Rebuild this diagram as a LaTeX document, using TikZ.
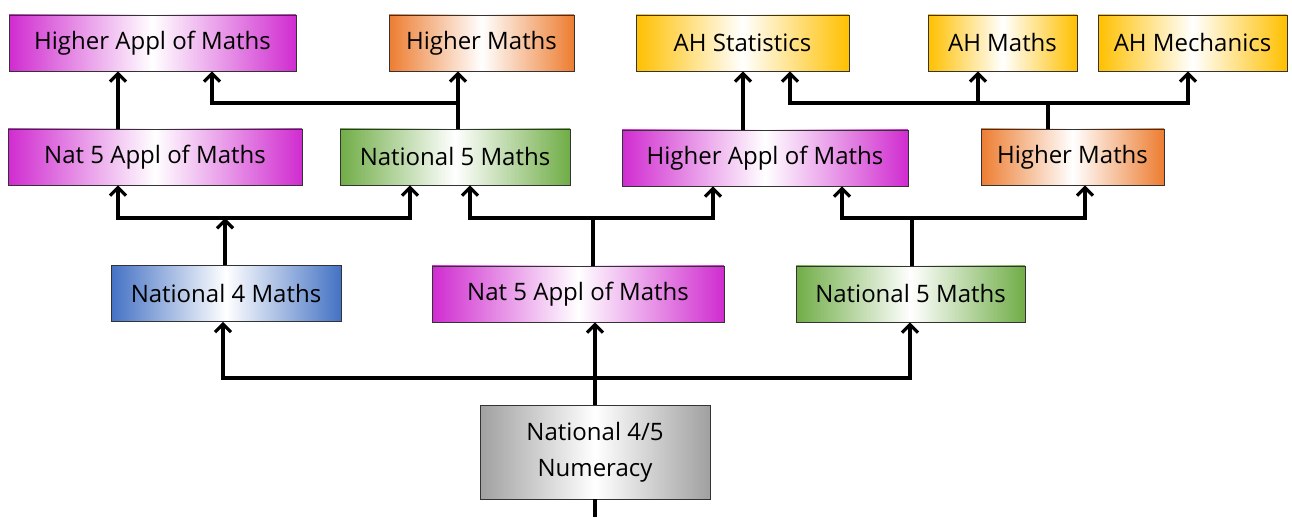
\documentclass[tikz,border=0pt]{standalone}
\usepackage{fontspec}
\setmainfont{Open Sans}
\usetikzlibrary{arrows.meta}
\definecolor{applcol}{RGB}{208,44,208}
\definecolor{highcol}{RGB}{237,125,49}
\definecolor{advcol}{RGB}{255,192,0}
\definecolor{natcol}{RGB}{112,173,71}
\definecolor{fourcol}{RGB}{68,114,196}
\definecolor{numcol}{RGB}{160,160,160}
\tikzset{
    course/.style={draw=black!80, line width=0.9pt, left color=#1, right color=#1,
        middle color=white, minimum height=56pt, inner sep=0pt,
        font=\fontsize{24}{36}\selectfont},
    link/.style={line width=3.2pt},
    up/.style={link, -{Straight Barb[length=8pt,width=16pt]}},
    both/.style={link, {Straight Barb[length=8pt,width=16pt]}-{Straight Barb[length=8pt,width=16pt]}},
}
\begin{document}
\begin{tikzpicture}[x=1pt,y=1pt]
        \useasboundingbox (0,0) rectangle (1292,517);
        %% Courses
        \foreach \nm/\x/\y/\w/\c/\t in {
            hao1/152.5/474/287/applcol/Higher Appl of Maths,
            hm1/481.5/474/185/highcol/Higher Maths,
            ahs/742.5/474/213/advcol/AH Statistics,
            ahm/1002.5/474/149/advcol/AH Maths,
            ahmech/1192.5/474/189/advcol/AH Mechanics,
            n5aom1/155/360/294/applcol/Nat 5 Appl of Maths,
            n5m1/455/360/230/natcol/National 5 Maths,
            hao2/765/359/286/applcol/Higher Appl of Maths,
            hm2/1072.5/360/183/highcol/Higher Maths,
            n4m/226/223.5/230/fourcol/National 4 Maths,
            n5aom2/578/223/292/applcol/Nat 5 Appl of Maths,
            n5m2/910.5/223/229/natcol/National 5 Maths}
            \node[course=\c, minimum width=\w pt] (\nm) at (\x,\y) {\t};
        \node[course=numcol, minimum width=230pt, minimum height=94pt, align=center]
            (num) at (595,65) {National 4/5\\Numeracy};
        %% Levels of the branches
        \coordinate (lvlA) at (0,414);
        \coordinate (lvlB) at (0,299);
        \coordinate (lvlC) at (0,139);
        \coordinate (out) at (595,0);
        %% Row 2 to row 1
        \draw[up] ([xshift=-37pt]n5aom1.north) -- ([xshift=-37pt]n5aom1.north |- hao1.south);
        \draw[up] ([xshift=3pt]n5m1.north) -- ([xshift=3pt]n5m1.north |- hm1.south);
        \draw[up] ([xshift=3pt]n5m1.north |- lvlA) -| ([xshift=59.5pt]hao1.south);
        \draw[up] ([xshift=-22pt]hao2.north) -- ([xshift=-22pt]hao2.north |- ahs.south);
        \draw[link] ([xshift=-24.5pt]hm2.north) -- ([xshift=-24.5pt]hm2.north |- lvlA);
        \draw[both] ([xshift=47.5pt]ahs.south) -- ([xshift=47.5pt]ahs.south |- lvlA) -| ([xshift=-4.5pt]ahmech.south);
        \draw[up] ([xshift=-24.5pt]ahm.south |- lvlA) -- ([xshift=-24.5pt]ahm.south);
        %% Row 3 to row 2
        \draw[up] ([xshift=-1pt]n4m.north) -- ([xshift=-1pt]n4m.north |- lvlB);
        \draw[both] ([xshift=-37pt]n5aom1.south) -- ([xshift=-37pt]n5aom1.south |- lvlB) -| ([xshift=-45pt]n5m1.south);
        \draw[link] ([xshift=15pt]n5aom2.north) -- ([xshift=15pt]n5aom2.north |- lvlB);
        \draw[both] ([xshift=15pt]n5m1.south) -- ([xshift=15pt]n5m1.south |- lvlB) -| ([xshift=-52pt]hao2.south);
        \draw[link] ([xshift=1.5pt]n5m2.north) -- ([xshift=1.5pt]n5m2.north |- lvlB);
        \draw[both] ([xshift=77pt]hao2.south) -- ([xshift=77pt]hao2.south |- lvlB) -| ([xshift=12.5pt]hm2.south);
        %% Numeracy to row 3
        \draw[up] (num.north) -- (num.north |- n5aom2.south);
        \draw[both] ([xshift=-3pt]n4m.south) -- ([xshift=-3pt]n4m.south |- lvlC) -| ([xshift=-0.5pt]n5m2.south);
        \draw[link] (num.south) -- (out);
    \end{tikzpicture}
\end{document}
